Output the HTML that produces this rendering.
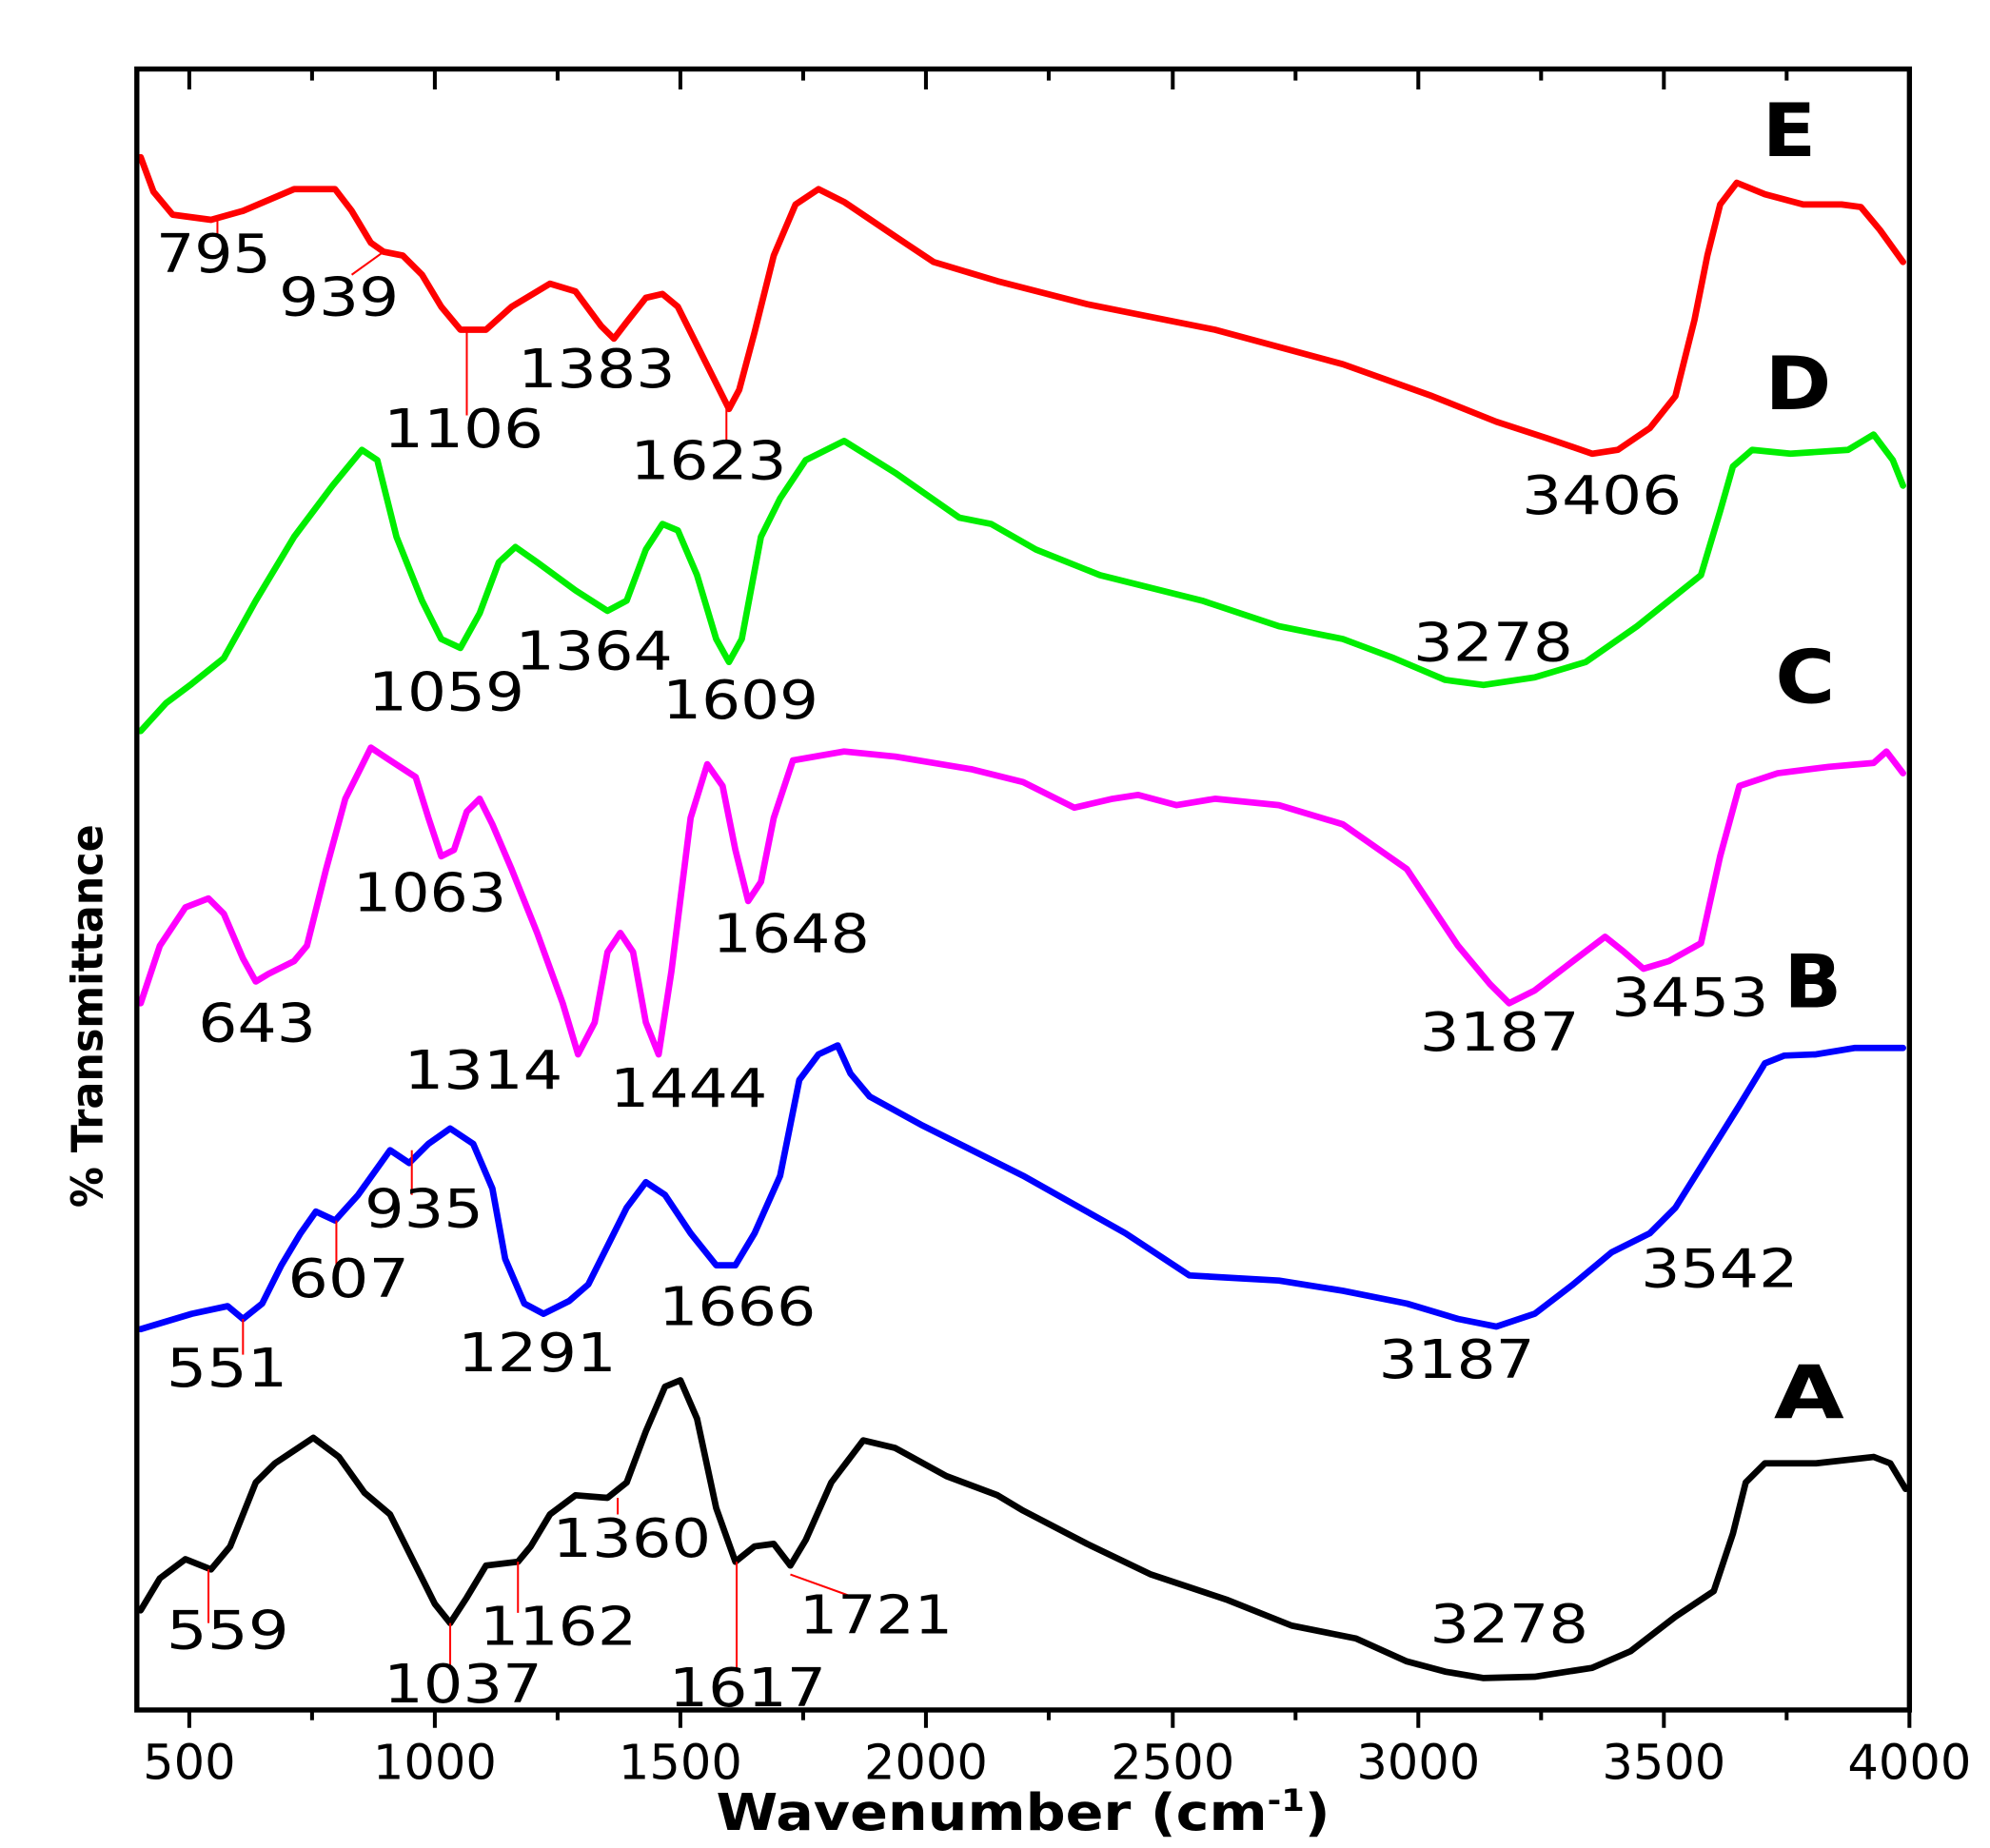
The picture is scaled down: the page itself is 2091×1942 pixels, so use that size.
<!DOCTYPE html>
<html><head><meta charset="utf-8"><style>html,body{margin:0;padding:0;background:#fff}svg{display:block}</style></head>
<body>
<svg width="2091" height="1942" viewBox="0 0 1556 1446" preserveAspectRatio="none" xmlns="http://www.w3.org/2000/svg">
<rect width="1556" height="1446" fill="#fff"/>
<g fill="none" stroke-linejoin="round" stroke-linecap="round" stroke-width="5">
<polyline stroke="#ff0000" points="110,123 120,150 135,168 165,172 190,165 230,148 262,148 275,165 290,190 300,197 315,200 330,215 345,240 360,258 380,258 400,240 430,222 450,228 470,255 480,265 490,252 505,233 518,230 530,240 545,270 560,300 570,320 578,305 590,260 605,200 622,160 640,148 660,158 700,185 730,205 780,220 850,238 950,258 1050,285 1120,310 1170,330 1210,343 1245,355 1265,352 1290,335 1310,310 1325,250 1335,200 1345,160 1358,143 1380,152 1410,160 1440,160 1455,162 1470,180 1488,205"/>
<polyline stroke="#00ee00" points="110,572 130,550 150,535 175,515 200,470 230,420 260,380 283,352 295,360 310,420 330,470 345,500 360,507 375,480 390,440 403,428 420,440 450,462 475,478 490,470 505,430 518,410 530,415 545,450 560,500 570,518 580,500 595,420 610,390 630,360 660,345 700,370 750,405 775,410 810,430 860,450 940,470 1000,490 1050,500 1090,515 1130,532 1160,536 1200,530 1240,518 1280,490 1330,450 1345,400 1355,365 1370,352 1400,355 1445,352 1465,340 1480,360 1488,380"/>
<polyline stroke="#ff00ff" points="110,785 125,740 145,710 163,703 175,715 190,750 200,768 210,762 230,752 240,740 255,680 270,625 290,585 305,595 325,608 335,640 345,670 355,665 365,635 375,625 385,645 400,680 420,730 440,785 452,825 465,800 475,745 485,730 495,745 505,800 515,825 525,760 540,640 553,598 565,615 575,665 585,705 595,690 605,640 620,595 660,588 700,592 760,602 800,612 840,632 870,625 890,622 920,630 950,625 1000,630 1050,645 1100,680 1140,740 1165,770 1180,785 1200,775 1230,752 1255,733 1270,745 1285,758 1305,752 1330,738 1345,670 1360,615 1390,605 1430,600 1465,597 1475,588 1488,605"/>
<polyline stroke="#0000ff" points="110,1040 150,1028 178,1022 190,1032 205,1020 220,990 235,965 247,948 262,955 280,935 305,900 320,910 335,895 352,883 370,895 385,930 395,985 410,1020 425,1028 445,1018 460,1005 475,975 490,945 505,925 520,935 540,965 560,990 575,990 590,965 610,920 625,845 640,825 655,818 665,840 680,858 720,880 800,920 880,965 930,998 1000,1002 1050,1010 1100,1020 1140,1032 1170,1038 1200,1028 1230,1005 1260,980 1290,965 1310,945 1335,905 1360,865 1380,832 1395,826 1420,825 1450,820 1488,820"/>
<polyline stroke="#000" points="110,1260 125,1235 145,1220 165,1228 180,1210 200,1160 215,1145 245,1125 265,1140 285,1168 305,1185 325,1225 340,1255 352,1270 365,1250 380,1225 405,1222 415,1210 430,1185 450,1170 475,1172 490,1160 505,1120 520,1085 532,1080 545,1110 560,1180 575,1222 590,1210 605,1208 618,1225 630,1205 650,1160 675,1127 700,1133 740,1155 780,1170 800,1182 850,1208 900,1232 960,1252 1010,1272 1060,1282 1100,1300 1130,1308 1160,1313 1200,1312 1245,1305 1275,1292 1310,1265 1340,1245 1355,1200 1365,1160 1380,1145 1420,1145 1465,1140 1478,1145 1490,1165"/>
</g>
<g stroke="#ff0000" stroke-width="1.5">
<line x1="170" y1="172" x2="170" y2="185"/><line x1="300" y1="197" x2="275" y2="215"/><line x1="365" y1="260" x2="365" y2="325"/><line x1="568" y1="320" x2="568" y2="345"/>
<line x1="322" y1="900" x2="322" y2="935"/><line x1="263" y1="955" x2="263" y2="990"/><line x1="190" y1="1032" x2="190" y2="1060"/>
<line x1="163" y1="1228" x2="163" y2="1270"/><line x1="352" y1="1270" x2="352" y2="1305"/><line x1="405" y1="1222" x2="405" y2="1262"/><line x1="483" y1="1172" x2="483" y2="1185"/><line x1="576" y1="1222" x2="576" y2="1305"/><line x1="618" y1="1232" x2="668" y2="1250"/>
</g>
<g font-family="'DejaVu Sans','Liberation Sans',sans-serif" font-size="42" fill="#000">
<text x="122" y="213" textLength="90" lengthAdjust="spacingAndGlyphs">795</text>
<text x="218" y="247" textLength="94" lengthAdjust="spacingAndGlyphs">939</text>
<text x="300" y="350" textLength="125" lengthAdjust="spacingAndGlyphs">1106</text>
<text x="405" y="303" textLength="123" lengthAdjust="spacingAndGlyphs">1383</text>
<text x="493" y="375" textLength="122" lengthAdjust="spacingAndGlyphs">1623</text>
<text x="1190" y="402" textLength="125" lengthAdjust="spacingAndGlyphs">3406</text>
<text x="1105" y="517" textLength="125" lengthAdjust="spacingAndGlyphs">3278</text>
<text x="288" y="556" textLength="122" lengthAdjust="spacingAndGlyphs">1059</text>
<text x="403" y="524" textLength="123" lengthAdjust="spacingAndGlyphs">1364</text>
<text x="518" y="562" textLength="122" lengthAdjust="spacingAndGlyphs">1609</text>
<text x="276" y="713" textLength="120" lengthAdjust="spacingAndGlyphs">1063</text>
<text x="557" y="745" textLength="123" lengthAdjust="spacingAndGlyphs">1648</text>
<text x="155" y="815" textLength="92" lengthAdjust="spacingAndGlyphs">643</text>
<text x="316" y="852" textLength="124" lengthAdjust="spacingAndGlyphs">1314</text>
<text x="477" y="866" textLength="123" lengthAdjust="spacingAndGlyphs">1444</text>
<text x="1110" y="822" textLength="125" lengthAdjust="spacingAndGlyphs">3187</text>
<text x="1260" y="795" textLength="123" lengthAdjust="spacingAndGlyphs">3453</text>
<text x="285" y="960" textLength="93" lengthAdjust="spacingAndGlyphs">935</text>
<text x="225" y="1015" textLength="95" lengthAdjust="spacingAndGlyphs">607</text>
<text x="130" y="1085" textLength="95" lengthAdjust="spacingAndGlyphs">551</text>
<text x="358" y="1073" textLength="124" lengthAdjust="spacingAndGlyphs">1291</text>
<text x="515" y="1037" textLength="123" lengthAdjust="spacingAndGlyphs">1666</text>
<text x="1078" y="1078" textLength="122" lengthAdjust="spacingAndGlyphs">3187</text>
<text x="1283" y="1007" textLength="123" lengthAdjust="spacingAndGlyphs">3542</text>
<text x="130" y="1290" textLength="96" lengthAdjust="spacingAndGlyphs">559</text>
<text x="300" y="1332" textLength="124" lengthAdjust="spacingAndGlyphs">1037</text>
<text x="375" y="1287" textLength="123" lengthAdjust="spacingAndGlyphs">1162</text>
<text x="432" y="1218" textLength="124" lengthAdjust="spacingAndGlyphs">1360</text>
<text x="523" y="1335" textLength="123" lengthAdjust="spacingAndGlyphs">1617</text>
<text x="625" y="1278" textLength="120" lengthAdjust="spacingAndGlyphs">1721</text>
<text x="1118" y="1285" textLength="124" lengthAdjust="spacingAndGlyphs">3278</text>
</g>
<g font-family="'DejaVu Sans','Liberation Sans',sans-serif" font-size="58" font-weight="bold" fill="#000">
<text x="1378" y="122" textLength="42" lengthAdjust="spacingAndGlyphs">E</text>
<text x="1380" y="320" textLength="52" lengthAdjust="spacingAndGlyphs">D</text>
<text x="1388" y="550" textLength="47" lengthAdjust="spacingAndGlyphs">C</text>
<text x="1395" y="788" textLength="45" lengthAdjust="spacingAndGlyphs">B</text>
<text x="1387" y="1110" textLength="55" lengthAdjust="spacingAndGlyphs">A</text>
</g>
<rect x="107" y="54" width="1386" height="1284" fill="none" stroke="#000" stroke-width="4"/>
<g stroke="#000" stroke-width="3">
<line x1="148" y1="54" x2="148" y2="70"/><line x1="244" y1="54" x2="244" y2="63"/><line x1="340" y1="54" x2="340" y2="70"/><line x1="436" y1="54" x2="436" y2="63"/><line x1="532" y1="54" x2="532" y2="70"/><line x1="628" y1="54" x2="628" y2="63"/><line x1="724" y1="54" x2="724" y2="70"/><line x1="820" y1="54" x2="820" y2="63"/><line x1="917" y1="54" x2="917" y2="70"/><line x1="1013" y1="54" x2="1013" y2="63"/><line x1="1109" y1="54" x2="1109" y2="70"/><line x1="1205" y1="54" x2="1205" y2="63"/><line x1="1301" y1="54" x2="1301" y2="70"/><line x1="1397" y1="54" x2="1397" y2="63"/>
<line x1="148" y1="1338" x2="148" y2="1352"/><line x1="244" y1="1338" x2="244" y2="1346"/><line x1="340" y1="1338" x2="340" y2="1352"/><line x1="436" y1="1338" x2="436" y2="1346"/><line x1="532" y1="1338" x2="532" y2="1352"/><line x1="628" y1="1338" x2="628" y2="1346"/><line x1="724" y1="1338" x2="724" y2="1352"/><line x1="820" y1="1338" x2="820" y2="1346"/><line x1="917" y1="1338" x2="917" y2="1352"/><line x1="1013" y1="1338" x2="1013" y2="1346"/><line x1="1109" y1="1338" x2="1109" y2="1352"/><line x1="1205" y1="1338" x2="1205" y2="1346"/><line x1="1301" y1="1338" x2="1301" y2="1352"/><line x1="1397" y1="1338" x2="1397" y2="1346"/><line x1="1493" y1="1338" x2="1493" y2="1352"/>
</g>
<g font-family="'DejaVu Sans','Liberation Sans',sans-serif" font-size="38" fill="#000" text-anchor="middle">
<text x="148" y="1392">500</text><text x="340" y="1392">1000</text><text x="532" y="1392">1500</text><text x="724" y="1392">2000</text><text x="917" y="1392">2500</text><text x="1109" y="1392">3000</text><text x="1301" y="1392">3500</text><text x="1493" y="1392">4000</text>
</g>
<text x="560" y="1432" textLength="480" lengthAdjust="spacingAndGlyphs" font-family="'DejaVu Sans','Liberation Sans',sans-serif" font-size="40" font-weight="bold" fill="#000">Wavenumber (cm<tspan font-size="24" dy="-15">-1</tspan><tspan dy="15">)</tspan></text>
<text transform="translate(80,945) rotate(-90)" textLength="300" lengthAdjust="spacingAndGlyphs" font-family="'DejaVu Sans','Liberation Sans',sans-serif" font-size="34" font-weight="bold" fill="#000">% Transmittance</text>
</svg>
</body></html>
